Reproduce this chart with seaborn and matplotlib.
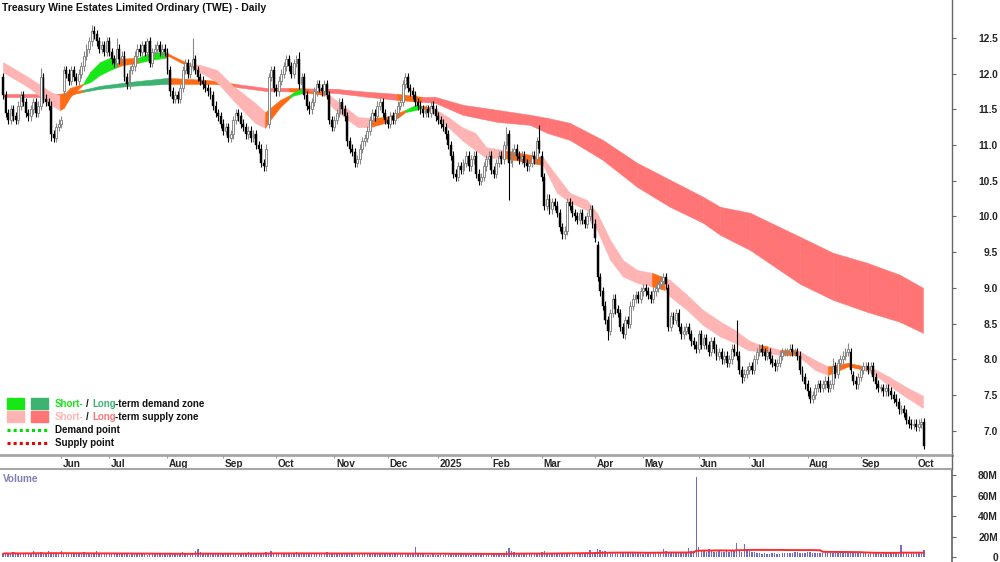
import numpy as np
import pandas as pd
import matplotlib.pyplot as plt
import matplotlib.transforms as mtransforms
import seaborn as sns
from matplotlib.patches import Rectangle
from matplotlib.lines import Line2D

#### data
asx_holidays = ["2024-06-10", "2024-12-25", "2024-12-26", "2025-01-01", "2025-01-27",
                "2025-04-18", "2025-04-21", "2025-04-25", "2025-06-09"]
dates = pd.bdate_range("2024-05-01", "2025-10-06")
dates = dates[~dates.isin(pd.to_datetime(asx_holidays))]

close = [
    # May 2024
    11.70, 11.45, 11.35, 11.50, 11.40, 11.35, 11.55, 11.70, 11.60, 11.45, 11.40, 11.50,
    11.60, 11.45, 11.55, 11.95, 11.65, 11.60, 11.55, 11.15, 11.10, 11.25, 11.30,
    # Jun
    11.35, 12.05, 12.00, 11.90, 12.05, 11.95, 11.90, 12.00, 12.10, 12.25, 12.35, 12.45,
    12.60, 12.55, 12.45, 12.35, 12.40, 12.30, 12.45,
    # Jul
    12.30, 12.20, 12.15, 12.35, 12.20, 12.25, 11.95, 11.85, 12.05, 12.10, 12.25, 12.35,
    12.30, 12.40, 12.30, 12.45, 12.15, 12.30, 12.35, 12.40, 12.30, 12.35, 12.30,
    # Aug
    12.05, 11.75, 11.65, 11.70, 11.65, 11.80, 12.05, 12.15, 12.00, 12.10, 12.20, 12.05,
    11.95, 11.90, 11.85, 11.80, 11.75, 11.70, 11.55, 11.45, 11.40, 11.30,
    # Sep
    11.20, 11.25, 11.10, 11.15, 11.35, 11.45, 11.40, 11.30, 11.25, 11.15, 11.20, 11.10,
    11.15, 11.00, 10.95, 10.75, 10.70, 10.95, 11.95, 12.05, 11.80,
    # Oct
    11.75, 11.90, 12.00, 12.10, 12.20, 12.10, 12.00, 12.15, 12.20, 11.85, 11.95, 11.70,
    11.55, 11.50, 11.60, 11.75, 11.85, 11.80, 11.75, 11.85, 11.70, 11.35, 11.25,
    # Nov
    11.35, 11.45, 11.60, 11.50, 11.40, 11.05, 10.95, 10.90, 10.75, 10.80, 10.95, 11.05,
    11.10, 11.20, 11.35, 11.45, 11.40, 11.55, 11.60, 11.45, 11.35,
    # Dec
    11.30, 11.40, 11.35, 11.45, 11.55, 11.60, 11.85, 11.95, 11.80, 11.75, 11.70, 11.60,
    11.55, 11.50, 11.45, 11.50, 11.45, 11.55, 11.50, 11.40,
    # Jan 2025
    11.35, 11.30, 11.25, 11.15, 11.00, 10.85, 10.60, 10.55, 10.70, 10.65, 10.75, 10.85,
    10.70, 10.80, 10.85, 10.60, 10.50, 10.55, 10.70, 10.80, 10.85,
    # Feb
    10.65, 10.60, 10.75, 10.85, 10.80, 11.00, 11.15, 10.75, 10.90, 10.95, 10.85, 10.80,
    10.85, 10.75, 10.70, 10.75, 10.85, 10.80, 11.05, 10.95,
    # Mar
    10.55, 10.15, 10.25, 10.10, 10.20, 10.15, 10.05, 9.85, 9.75, 9.80, 10.20, 10.15,
    10.05, 10.00, 9.95, 10.05, 9.95, 9.90, 10.00, 10.10, 9.90,
    # Apr
    9.70, 9.15, 8.95, 8.75, 8.55, 8.40, 8.65, 8.85, 8.70, 8.65, 8.45, 8.35,
    8.55, 8.50, 8.75, 8.85, 8.90, 8.85, 8.95,
    # May
    9.00, 8.95, 8.90, 8.85, 8.95, 9.00, 9.05, 9.10, 9.15, 9.05, 8.45, 8.60,
    8.55, 8.65, 8.45, 8.35, 8.40, 8.45, 8.35, 8.25, 8.20, 8.15,
    # Jun
    8.35, 8.20, 8.30, 8.20, 8.10, 8.25, 8.15, 8.05, 8.10, 8.00, 8.05, 7.95,
    8.00, 8.15, 8.10, 8.05, 7.85, 7.75, 7.80, 7.85,
    # Jul
    7.90, 7.85, 8.00, 8.10, 8.15, 8.10, 8.05, 8.10, 8.00, 7.95, 7.90, 7.95,
    8.05, 8.10, 8.10, 8.10, 8.15, 8.10, 8.10, 8.05, 7.85, 7.75, 7.65,
    # Aug
    7.55, 7.45, 7.50, 7.60, 7.65, 7.60, 7.65, 7.70, 7.60, 7.65, 7.90, 7.80,
    7.95, 8.00, 8.05, 8.10, 8.15, 7.85, 7.70, 7.65, 7.75,
    # Sep
    7.85, 7.90, 7.90, 7.85, 7.90, 7.75, 7.65, 7.60, 7.60, 7.55, 7.60, 7.55,
    7.50, 7.45, 7.40, 7.30, 7.30, 7.25, 7.15, 7.10, 7.08, 7.10,
    # Oct
    7.05, 7.10, 7.12, 6.78,
]
first_open = 11.95
gap_opens = {24: 11.75, 105: 11.30, 213: 10.85, 235: 9.60, 263: 9.00, 335: 8.10, 336: 7.78}
long_highs = {15: 12.08, 35: 12.68, 45: 12.50, 57: 12.50, 75: 12.50, 117: 12.30, 199: 11.25,
              212: 11.28, 290: 8.55, 328: 8.02, 334: 8.23}
long_lows = {19: 11.05, 200: 10.23, 239: 8.27, 245: 8.30, 292: 7.67, 364: 6.75}

volume_m = [
    3.2, 4.1, 2.8, 3.5, 5.2, 3.0, 2.6, 3.8, 4.4, 3.1, 2.9, 3.6, 5.8, 3.3, 2.7, 4.9, 3.4, 3.0, 6.1, 4.2, 3.5, 3.1, 2.8,
    5.5, 3.9, 3.2, 2.9, 3.4, 2.6, 3.1, 2.8, 3.6, 4.8, 3.0, 2.7, 2.5, 3.3, 5.6, 3.4, 2.9, 2.6, 3.1,
    2.8, 3.2, 2.5, 2.9, 3.4, 2.6, 3.0, 2.7, 2.4, 3.1, 2.8, 2.5, 2.9, 3.3, 2.6, 2.4, 3.0, 2.7, 2.5, 2.9, 3.2, 2.6, 2.8,
    4.2, 3.6, 3.1, 2.9, 3.5, 3.0, 4.8, 3.9, 3.3, 2.8, 3.1, 5.6, 7.4, 4.5, 3.6, 3.2, 3.0, 2.8, 3.4, 3.1, 2.7, 3.3,
    3.0, 2.7, 3.5, 2.9, 3.2, 2.6, 3.8, 3.1, 2.8, 3.4, 4.6, 3.2, 2.9, 3.7, 4.1, 3.3, 3.0, 5.2, 4.4, 6.3, 4.0,
    3.6, 3.1, 3.3, 2.9, 3.5, 3.0, 2.8, 3.2, 4.5, 3.4, 3.0, 3.6, 2.9, 2.7, 3.1, 3.4, 2.8, 3.0, 3.3, 3.8, 4.6, 3.5, 3.2,
    3.4, 3.0, 3.9, 3.3, 3.1, 4.2, 3.6, 3.2, 2.9, 3.5, 3.0, 2.8, 3.3, 3.1, 2.9, 3.4, 3.0, 2.7, 3.2, 4.0, 3.3,
    2.9, 3.1, 2.7, 3.0, 2.8, 3.3, 2.6, 3.0, 3.4, 2.9, 3.1, 10.2, 3.0, 2.5, 2.7, 2.4, 1.8, 2.2, 2.6, 2.3,
    2.1, 2.6, 2.4, 2.8, 3.0, 2.7, 3.4, 2.9, 2.6, 2.5, 2.8, 3.1, 2.7, 2.4, 2.9, 3.2, 2.8, 2.6, 3.0, 2.7, 3.3,
    3.1, 2.9, 3.4, 3.0, 3.6, 4.2, 5.8, 9.1, 6.3, 4.8, 3.9, 3.5, 3.2, 3.7, 3.4, 3.0, 3.3, 3.6, 3.2, 3.5,
    5.1, 6.2, 4.3, 3.8, 3.5, 4.0, 3.6, 3.3, 3.9, 3.4, 3.1, 3.7, 3.4, 3.2, 3.6, 3.9, 3.3, 4.1, 3.5, 6.8, 4.4,
    4.6, 8.3, 7.0, 6.1, 5.4, 4.5, 4.9, 4.2, 3.8, 4.4, 4.0, 3.6, 3.9, 4.3, 3.7, 3.5, 4.1, 3.8, 3.6,
    3.4, 3.9, 3.6, 4.2, 3.8, 4.0, 4.5, 5.2, 7.6, 5.9, 4.8, 4.3, 4.0, 4.6, 4.2, 3.9, 4.4, 5.0, 8.9, 6.1, 5.5, 78.0,
    9.8, 6.2, 5.6, 5.1, 7.4, 6.0, 5.3, 4.8, 5.6, 5.0, 4.7, 5.4, 4.9, 6.3, 5.8, 14.2, 6.5, 5.2, 12.6, 7.8,
    5.9, 5.2, 4.6, 4.1, 3.6, 3.2, 3.9, 3.4, 3.0, 3.5, 4.2, 3.3, 3.1, 3.6, 3.8, 4.4, 3.5, 4.1, 4.6, 5.2, 4.0, 3.7, 3.9,
    4.5, 5.3, 4.1, 3.8, 4.4, 3.9, 4.2, 6.3, 5.0, 4.6, 4.1, 4.5, 3.8, 4.9, 4.3, 5.6, 4.8, 4.0, 3.7, 4.2, 3.9,
    4.0, 3.6, 3.9, 3.4, 4.3, 3.7, 3.5, 4.1, 3.2, 3.6, 3.8, 3.3, 3.9, 3.5, 3.7, 3.4, 12.1, 4.2, 3.6, 3.3, 3.8, 3.5,
    3.6, 3.9, 4.2, 6.4,
]

# short-term zone: day index, upper and lower edge, colour code of the stretch that follows
short_idx = [0, 10, 19, 22.5, 24, 26.5, 31.6, 34.4, 38.3, 42.3, 45, 47.4, 53.4, 58, 64, 65.2,
             72.7, 77.9, 84.6, 90.9, 99.6, 103.6, 104.7, 109.5, 113.4, 114.6, 118.6, 120.6,
             127.3, 130, 135.2, 140.3, 145, 151, 156, 159, 163, 165.6, 170, 176, 181.4,
             186.6, 191, 197.6, 213.4, 219, 224, 230.8, 234.8, 240, 245, 250.6, 256.5,
             261.7, 263.6, 270.4, 276.7, 283.4, 289.3, 294.5, 299.2, 302.4, 307, 313.8,
             321, 326, 334, 340.7, 343.5, 350, 356.5, 363.6]
short_top = [12.16, 11.95, 11.74, 11.69, 11.70, 11.80, 11.855, 12.02, 12.16, 12.22, 12.22, 12.21,
             12.22, 12.29, 12.30, 12.28, 12.15, 12.12, 12.05, 11.83, 11.59, 11.46, 11.49, 11.63,
             11.70, 11.73, 11.80, 11.745, 11.745, 11.67, 11.53, 11.39, 11.38, 11.39, 11.45,
             11.49, 11.56, 11.55, 11.52, 11.39, 11.25, 11.17, 10.97, 10.93, 10.83, 10.56,
             10.33, 10.23, 10.05, 9.67, 9.39, 9.25, 9.21, 9.14, 9.11, 8.90, 8.69, 8.53, 8.41,
             8.27, 8.20, 8.18, 8.13, 8.13, 7.99, 7.90, 7.95, 7.90, 7.88, 7.76, 7.62, 7.49]
short_bot = [12.02, 11.81, 11.56, 11.49, 11.52, 11.67, 11.845, 11.88, 11.98, 12.05, 12.09, 12.12,
             12.15, 12.19, 12.22, 12.25, 12.11, 12.02, 11.88, 11.63, 11.31, 11.24, 11.31, 11.53,
             11.66, 11.69, 11.73, 11.73, 11.70, 11.53, 11.38, 11.25, 11.25, 11.31, 11.38,
             11.46, 11.49, 11.52, 11.46, 11.25, 11.07, 10.93, 10.82, 10.82, 10.72, 10.33,
             10.20, 10.09, 9.81, 9.39, 9.16, 9.07, 9.02, 8.97, 8.88, 8.69, 8.48, 8.32, 8.23,
             8.13, 8.11, 8.09, 8.06, 8.06, 7.85, 7.78, 7.90, 7.85, 7.81, 7.64, 7.48, 7.32]
short_code = ("ppp" "ooo" "gggg" "oo" "gg" "oo" "ppppp" "ooo" "gg" "oo" "pppp" "ooo" "gg" "o"
              "ppppp" "o" "pppppppp" "o" "ppppppp" "o" "p" "o" "pp" "oo" "pppp")

# long-term zone
long_idx = [0, 22.5, 26.5, 31.6, 38.3, 50.2, 65.2, 79.8, 83.8, 91.7, 103.6, 113, 121,
            131.2, 144.3, 155.7, 165.6, 170.8, 181.8, 195.3, 208.3, 215, 224, 237, 250.6,
            263.6, 276.7, 283.4, 295.3, 315, 328, 341.5, 354.5, 363.6]
long_top = [11.716, 11.716, 11.744, 11.772, 11.828, 11.884, 11.94, 11.912, 11.898, 11.856,
            11.80, 11.80, 11.79, 11.786, 11.744, 11.716, 11.674, 11.674, 11.562, 11.492,
            11.422, 11.38, 11.31, 11.072, 10.751, 10.513, 10.275, 10.135, 10.05, 9.715,
            9.491, 9.351, 9.183, 9.001]
long_bot = [11.674, 11.674, 11.702, 11.744, 11.786, 11.828, 11.856, 11.856, 11.856, 11.814,
            11.758, 11.75, 11.74, 11.73, 11.674, 11.632, 11.604, 11.59, 11.422, 11.324,
            11.282, 11.17, 11.072, 10.793, 10.415, 10.135, 9.911, 9.743, 9.53, 9.057,
            8.833, 8.665, 8.525, 8.371]
long_code = "r" "oo" "GGG" "ooo" "rr" "o" "rrr" "o" + "r" * 17

zone_colors = {"g": "#17e617", "G": "#3cb371", "p": "#ffb4b4", "r": "#ff7575", "o": "#ff6a12"}

vol_ticks = [0, 20, 40, 60, 80]
price_ticks = [7.0, 7.5, 8.0, 8.5, 9.0, 9.5, 10.0, 10.5, 11.0, 11.5, 12.0, 12.5]

#### derived candle parts
x = np.arange(len(close))
close = np.array(close)
opens = np.r_[first_open, close[:-1]]
for k, v in gap_opens.items():
    opens[k] = v
highs = np.maximum(opens, close) + 0.06
lows = np.minimum(opens, close) - 0.06
for k, v in long_highs.items():
    highs[k] = v
for k, v in long_lows.items():
    lows[k] = v
up = close >= opens

#### figure
sns.set_theme(style="white")
plt.rcParams['font.family'] = ['Liberation Sans', 'DejaVu Sans']
plt.rcParams['patch.force_edgecolor'] = False

W, H = 1000, 562
FS = 7.2
fig = plt.figure(figsize=(10, 5.62), dpi=100)
ax = fig.add_axes([0, 107 / H, 952 / W, 455 / H])
vax = fig.add_axes([0, 0, 952 / W, 93 / H])

xlim = (-1.19, 375.1)

# zones
def draw_zone(a, idx, top, bot, codes):
    for k in range(len(idx) - 1):
        c = zone_colors[codes[k]]
        a.fill_between(idx[k:k + 2], bot[k:k + 2], top[k:k + 2], color=c, ec=c, lw=0.4, zorder=1)

draw_zone(ax, long_idx, long_top, long_bot, long_code)
draw_zone(ax, short_idx, short_top, short_bot, short_code)

# candles
ax.vlines(x[up], lows[up], highs[up], color="#888888", lw=0.8, zorder=3)
ax.vlines(x[~up], lows[~up], highs[~up], color="black", lw=0.8, zorder=3)
body_h = np.maximum(np.abs(close - opens), 0.008)
ax.bar(x[up], body_h[up], bottom=np.minimum(opens, close)[up], width=0.75,
       color="white", edgecolor="#888888", linewidth=0.7, zorder=4)
ax.bar(x[~up], body_h[~up], bottom=np.minimum(opens, close)[~up], width=0.75,
       color="black", edgecolor="black", linewidth=0.3, zorder=4)

ax.set_xlim(*xlim)
ax.set_ylim(6.66, 13.03)

# month ticks
month_pos, month_lab = [], []
for k in range(1, len(dates)):
    if dates[k].month != dates[k - 1].month:
        month_pos.append(k)
        month_lab.append(str(dates[k].year) if dates[k].month == 1 else dates[k].strftime("%b"))
ax.set_xticks(month_pos)
ax.set_xticklabels(month_lab, fontsize=FS, fontweight="bold", ha="left")
ax.tick_params(axis="x", bottom=True, length=2.5, width=0.8, color="#999999", pad=0.5,
               direction="out")
shift = mtransforms.ScaledTranslation(1.5 / 100, 0, fig.dpi_scale_trans)
for lab in ax.get_xticklabels():
    lab.set_transform(lab.get_transform() + shift)

ax.set_yticks(price_ticks)
ax.set_yticklabels([f"{v:.1f}" for v in price_ticks], fontsize=FS + 0.2, fontweight="bold")
ax.yaxis.tick_right()
ax.tick_params(axis="y", right=True, left=False, length=3, width=0.8, color="#666666", pad=30)
for lab in ax.get_yticklabels():
    lab.set_horizontalalignment("right")

for s in ["top", "left"]:
    ax.spines[s].set_visible(False)
ax.spines["right"].set_color("#666666")
ax.spines["right"].set_linewidth(1.0)
ax.spines["bottom"].set_color("#a6a6a6")
ax.spines["bottom"].set_linewidth(2.0)

# volume panel
vol = pd.Series(volume_m)
vax.bar(x, vol, width=0.55, color="#6e6ec8", linewidth=0, antialiased=False, zorder=2)
vol_ma = vol.rolling(50, min_periods=1).mean()
sns.lineplot(x=x, y=vol_ma.values, ax=vax, color="#ff2a2a", lw=1.4, zorder=3)
vax.set_xlim(*xlim)
vax.set_ylim(-4.9, 86.3)
vax.set_xticks([])
vax.set_yticks(vol_ticks)
vax.set_yticklabels(["0" if v == 0 else f"{v}M" for v in vol_ticks], fontsize=FS + 0.2,
                    fontweight="bold")
vax.yaxis.tick_right()
vax.tick_params(axis="y", right=True, left=False, length=3, width=0.8, color="#666666", pad=30)
for lab in vax.get_yticklabels():
    lab.set_horizontalalignment("right")
for s in ["bottom", "left"]:
    vax.spines[s].set_visible(False)
vax.spines["right"].set_color("#666666")
vax.spines["top"].set_color("#a6a6a6")
vax.spines["top"].set_linewidth(1.5)

fig.add_artist(Line2D([952 / W, 952 / W], [1 - 455 / H, 1 - 469 / H], color="#666666", lw=1.0))

# texts
fig.text(2 / W, 1 - 8 / H, "Treasury Wine Estates Limited Ordinary (TWE) - Daily",
         fontsize=7.5, fontweight="bold", va="center", ha="left", color="#111111")
fig.text(3 / W, 1 - 479 / H, "Volume", fontsize=FS, fontweight="bold", va="center",
         ha="left", color="#8080b8")

# legend
def rect(x0, y0, w, h, c):
    fig.add_artist(Rectangle((x0 / W, 1 - (y0 + h) / H), w / W, h / H, color=c,
                             transform=fig.transFigure))

rect(7, 398, 17, 11, zone_colors["g"])
rect(31, 398, 17, 11, zone_colors["G"])
rect(7, 411, 17, 11, zone_colors["p"])
rect(31, 411, 17, 11, zone_colors["r"])
fig.add_artist(Line2D([7 / W, 48 / W], [1 - 430 / H] * 2, color="#00dd00", lw=2.2,
                      linestyle=(0, (1, 1))))
fig.add_artist(Line2D([7 / W, 48 / W], [1 - 443 / H] * 2, color="#ee0000", lw=2.2,
                      linestyle=(0, (1, 1))))

renderer = fig.canvas.get_renderer()
LEG_FS = 7.0

# pieces: text, colour, pixel gap to the next piece (measured from the ink end)
def colored_text(x0, y0, parts):
    xx = x0
    for txt, col, gap in parts:
        t = fig.text(xx / W, 1 - y0 / H, txt, color=col, fontsize=LEG_FS,
                     fontweight="bold", va="center", ha="left")
        xx = t.get_window_extent(renderer).x1 + gap

colored_text(55, 404, [("Short-", zone_colors["g"], 2.5), ("/", "#111111", 3.8),
                       ("Long", zone_colors["G"], -1.5), ("-term demand zone", "#111111", 0)])
colored_text(55, 417, [("Short-", zone_colors["p"], 2.5), ("/", "#111111", 3.8),
                       ("Long", zone_colors["r"], -1.5), ("-term supply zone", "#111111", 0)])
colored_text(55, 430, [("Demand point", "#111111", 0)])
colored_text(55, 443, [("Supply point", "#111111", 0)])

fig.savefig("out.png", dpi=100)
